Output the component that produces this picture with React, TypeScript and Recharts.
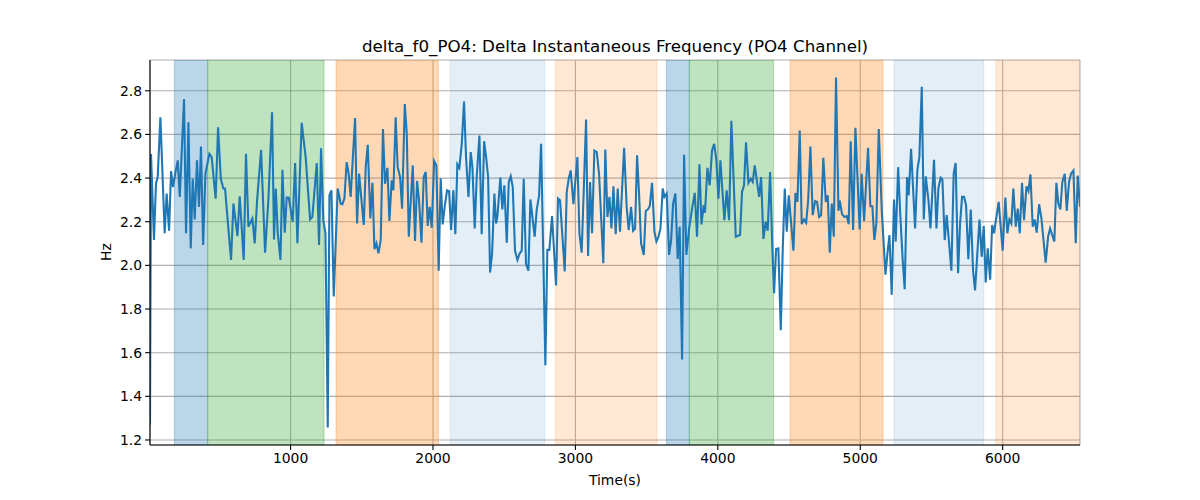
import React from 'react';
import { LineChart, Line, XAxis, YAxis, CartesianGrid, ReferenceArea } from 'recharts';

const times = [13,20,41,55,67,86,116,130,147,161,175,194,208,222,252,266,283,299,313,327,343,357,371,386,402,430,446,474,491,510,528,540,582,599,627,643,671,687,704,732,748,765,793,821,844,870,884,896,910,929,943,959,973,987,1015,1032,1048,1078,1106,1137,1153,1184,1200,1214,1230,1245,1261,1273,1287,1303,1331,1352,1364,1378,1394,1408,1422,1453,1467,1481,1514,1528,1542,1560,1575,1589,1603,1617,1633,1649,1663,1680,1694,1710,1722,1738,1752,1769,1783,1802,1816,1830,1858,1874,1888,1902,1919,1935,1949,1963,1977,1991,2008,2024,2040,2054,2068,2082,2099,2113,2127,2143,2157,2171,2185,2202,2218,2232,2249,2265,2277,2293,2307,2326,2342,2359,2373,2387,2401,2415,2431,2443,2452,2473,2487,2501,2518,2532,2546,2560,2576,2593,2609,2623,2637,2653,2670,2684,2714,2728,2745,2759,2775,2789,2803,2817,2836,2864,2878,2892,2925,2939,2953,2967,2986,3014,3028,3044,3075,3089,3103,3117,3133,3150,3166,3196,3210,3225,3239,3253,3267,3283,3297,3313,3342,3360,3374,3391,3405,3419,3433,3447,3461,3480,3494,3508,3522,3538,3555,3569,3583,3597,3613,3625,3641,3658,3672,3686,3702,3718,3732,3749,3763,3779,3800,3821,3838,3854,3871,3885,3901,3910,3927,3943,3959,3974,3990,4004,4018,4046,4062,4079,4095,4126,4156,4170,4184,4198,4215,4231,4245,4259,4290,4304,4320,4336,4350,4367,4383,4395,4409,4425,4442,4456,4470,4484,4498,4531,4545,4559,4575,4589,4605,4620,4634,4650,4666,4683,4697,4711,4725,4741,4758,4772,4786,4800,4814,4830,4847,4856,4872,4889,4905,4919,4933,4950,4966,4996,5010,5027,5055,5071,5085,5099,5113,5130,5151,5177,5191,5205,5221,5237,5249,5266,5282,5298,5312,5329,5340,5357,5385,5401,5415,5432,5446,5460,5479,5493,5518,5535,5549,5565,5577,5593,5607,5640,5656,5670,5687,5701,5715,5729,5743,5759,5776,5792,5806,5837,5853,5867,5881,5895,5912,5926,5940,5949,5972,6000,6019,6033,6047,6061,6075,6092,6106,6120,6136,6150,6167,6181,6195,6211,6225,6239,6256,6272,6302,6319,6333,6363,6377,6391,6405,6419,6436,6450,6466,6480,6497,6513,6527,6543];

const values = [1.27,2.51,2.116,2.374,2.405,2.678,2.147,2.329,2.159,2.432,2.359,2.435,2.481,2.314,2.762,2.147,2.656,2.078,2.397,2.21,2.481,2.268,2.545,2.093,2.42,2.511,2.496,2.306,2.633,2.397,2.352,2.352,2.025,2.283,2.134,2.317,2.025,2.511,2.177,2.215,2.101,2.298,2.529,2.058,2.298,2.701,2.119,2.352,2.147,2.025,2.438,2.15,2.311,2.311,2.2,2.469,2.101,2.653,2.496,2.21,2.222,2.469,2.093,2.537,2.207,2.147,1.257,2.321,2.344,1.858,2.352,2.283,2.28,2.306,2.473,2.42,2.314,2.675,2.192,2.42,2.185,2.453,2.552,2.215,2.378,2.074,2.101,2.055,2.116,2.625,2.374,2.447,2.204,2.39,2.344,2.678,2.45,2.405,2.26,2.739,2.602,2.131,2.458,2.112,2.387,2.298,2.104,2.405,2.428,2.181,2.268,2.172,2.478,2.458,1.976,2.399,2.188,2.268,2.344,2.34,2.162,2.344,2.143,2.463,2.447,2.557,2.751,2.496,2.314,2.519,2.45,2.169,2.405,2.595,2.143,2.569,2.496,2.405,1.967,2.055,2.329,2.192,2.222,2.402,2.256,2.367,2.104,2.382,2.408,2.359,2.067,2.025,2.055,2.067,2.397,2.007,1.976,2.302,2.131,2.253,2.321,2.557,2.025,1.542,2.071,2.071,2.226,1.908,2.306,2.298,1.972,2.336,2.397,2.435,2.28,2.496,2.147,2.058,2.668,2.043,2.382,2.147,2.526,2.519,2.42,2.01,2.531,2.222,2.314,2.169,2.362,2.143,2.352,2.154,2.539,2.268,2.162,2.268,2.159,2.169,2.504,2.329,2.101,2.048,2.25,2.256,2.271,2.378,2.154,2.109,2.131,2.169,2.352,2.314,2.329,2.048,2.116,2.283,2.329,2.029,2.177,1.569,2.507,2.048,2.177,2.268,2.332,2.131,2.463,2.188,2.276,2.241,2.447,2.367,2.526,2.557,2.481,2.306,2.481,2.207,2.344,2.207,2.663,2.131,2.139,2.336,2.367,2.564,2.378,2.397,2.382,2.458,2.314,2.405,2.121,2.2,2.159,2.428,2.074,1.873,2.075,2.078,1.703,2.078,2.352,2.154,2.321,2.067,2.332,2.291,2.618,2.189,2.21,2.195,2.295,2.545,2.23,2.295,2.291,2.222,2.23,2.493,2.291,2.321,2.058,2.283,2.131,2.861,2.25,2.298,2.235,2.222,2.226,2.189,2.569,2.162,2.63,2.165,2.42,2.204,2.539,2.271,2.271,2.116,2.192,2.625,2.253,1.957,2.055,2.139,1.865,2.302,2.109,2.45,2.222,2.025,1.891,2.405,2.321,2.534,2.169,2.435,2.496,2.818,2.21,2.408,2.298,2.169,2.484,2.169,2.356,2.402,2.393,2.116,2.23,1.976,2.42,2.469,1.964,2.192,2.314,2.314,2.276,2.028,2.256,1.976,1.885,2.21,2.04,2.18,1.922,2.078,1.934,2.185,2.147,2.192,2.291,2.067,2.311,2.147,2.21,2.192,2.352,2.177,2.26,2.147,2.378,2.207,2.362,2.341,2.417,2.177,2.21,2.15,2.28,2.215,2.013,2.131,2.169,2.109,2.378,2.283,2.256,2.382,2.42,2.25,2.382,2.42,2.435,2.101,2.412,2.268];

const spanStarts = [184, 418, 1319, 2122, 2859, 3639, 3800, 4507, 5237, 5951];
const spanEnds = [418, 1235, 2038, 2785, 3573, 3800, 4392, 5160, 5867, 6543];
const spanKinds = ['blue', 'green', 'orange', 'lightblue', 'lightorange', 'blue', 'green', 'orange', 'lightblue', 'lightorange'];

const xTicks = [1000, 2000, 3000, 4000, 5000, 6000];
const yTicks = [1.2, 1.4, 1.6, 1.8, 2.0, 2.2, 2.4, 2.6, 2.8];
const xDomain = [13, 6543];
const yDomain = [1.177, 2.941];

const kindStyle: Record<string, { color: string; opacity: number }> = {
  blue: { color: '#1f77b4', opacity: 0.3 },
  green: { color: '#2ca02c', opacity: 0.3 },
  orange: { color: '#ff7f0e', opacity: 0.3 },
  lightblue: { color: '#1f77b4', opacity: 0.12 },
  lightorange: { color: '#ff7f0e', opacity: 0.17 },
};

const data = times.map((t, i) => ({ t, v: values[i] }));

const FONT = 'DejaVu Sans, sans-serif';
const tickStyle = { fontSize: 13.9, fill: '#000', fontFamily: FONT };

export default function App() {
  return (
    <div style={{ position: 'absolute', left: 0, top: 0, width: 1200, height: 500, background: '#fff', fontFamily: FONT }}>
      <LineChart
        width={1200}
        height={500}
        data={data}
        margin={{ top: 60, right: 120, bottom: 25, left: 90 }}
      >
        {spanStarts.map((s, i) => {
          const st = kindStyle[spanKinds[i]];
          return (
            <ReferenceArea
              key={i}
              x1={s}
              x2={spanEnds[i]}
              fill={st.color}
              fillOpacity={st.opacity}
              stroke={st.color}
              strokeOpacity={st.opacity}
              strokeWidth={1}
              ifOverflow="hidden"
            />
          );
        })}
        <CartesianGrid stroke="#b0b0b0" strokeWidth={1.1} />
        <XAxis
          dataKey="t"
          type="number"
          domain={xDomain}
          ticks={xTicks}
          allowDataOverflow
          height={30}
          tickSize={4.9}
          tickMargin={3}
          tick={tickStyle}
          axisLine={{ stroke: '#000', strokeWidth: 1.1 }}
          tickLine={{ stroke: '#000', strokeWidth: 1.1 }}
        />
        <XAxis
          xAxisId="top"
          orientation="top"
          type="number"
          domain={xDomain}
          height={0}
          tick={false}
          tickLine={false}
          axisLine={{ stroke: '#000', strokeWidth: 1.1 }}
        />
        <YAxis
          type="number"
          domain={yDomain}
          ticks={yTicks}
          allowDataOverflow
          width={60}
          tickSize={4.9}
          tickMargin={3}
          tick={tickStyle}
          tickFormatter={(v: number) => v.toFixed(1)}
          axisLine={{ stroke: '#000', strokeWidth: 1.1 }}
          tickLine={{ stroke: '#000', strokeWidth: 1.1 }}
        />
        <YAxis
          yAxisId="right"
          orientation="right"
          type="number"
          domain={yDomain}
          width={0}
          tick={false}
          tickLine={false}
          axisLine={{ stroke: '#000', strokeWidth: 1.1 }}
        />
        <Line
          type="linear"
          dataKey="v"
          stroke="#1f77b4"
          strokeWidth={2.08}
          dot={false}
          isAnimationActive={false}
        />
      </LineChart>
      <div style={{ position: 'absolute', left: 150, width: 930, top: 36, textAlign: 'center', fontSize: 16.7, lineHeight: '20px', color: '#000' }}>
        delta_f0_PO4: Delta Instantaneous Frequency (PO4 Channel)
      </div>
      <div style={{ position: 'absolute', left: 150, width: 930, top: 471, textAlign: 'center', fontSize: 13.9, lineHeight: '18px', color: '#000' }}>
        Time(s)
      </div>
      <div style={{ position: 'absolute', left: 106, top: 252, width: 0, height: 0 }}>
        <div style={{ position: 'absolute', left: -30, top: -9, width: 60, textAlign: 'center', fontSize: 13.9, lineHeight: '18px', color: '#000', transform: 'rotate(-90deg)' }}>
          Hz
        </div>
      </div>
    </div>
  );
}
